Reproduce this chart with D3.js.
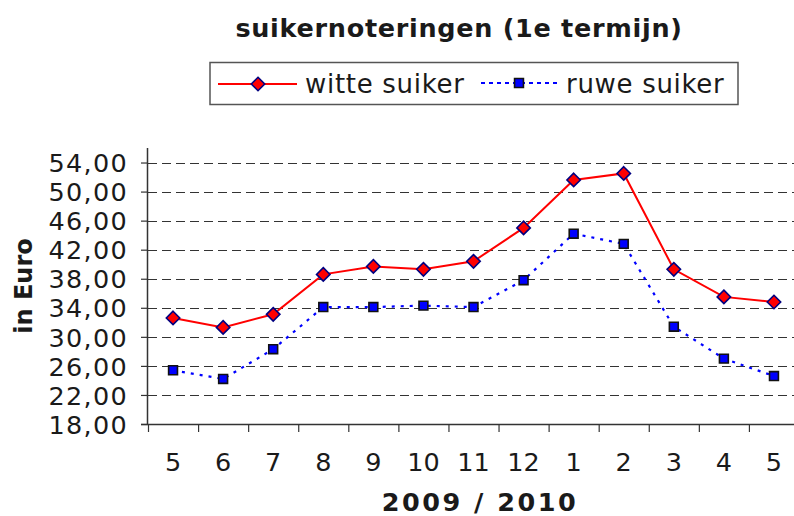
<!DOCTYPE html>
<html>
<head>
<meta charset="utf-8">
<script src="https://cdn.jsdelivr.net/npm/d3@7"></script>
<style>
  body { margin: 0; background: #fff; }
  svg { display: block; font-family: "DejaVu Sans", Verdana, sans-serif; }
</style>
</head>
<body>
<svg id="chart" width="794" height="516"></svg>
<script>
// maanden mei 2009 .. mei 2010
const months = ["5", "6", "7", "8", "9", "10", "11", "12", "1", "2", "3", "4", "5"];
const witteSuiker = [32.6, 31.3, 33.1, 38.6, 39.7, 39.3, 40.4, 45.0, 51.6, 52.5, 39.3, 35.5, 34.8];
const ruweSuiker = [25.4, 24.2, 28.3, 34.1, 34.1, 34.3, 34.1, 37.8, 44.2, 42.8, 31.4, 27.0, 24.6];
const yTicks = [18, 22, 26, 30, 34, 38, 42, 46, 50, 54];

const svg = d3.select( "#chart" );

const plotLeft = 148, plotRight = 799, plotTop = 148, plotBottom = 424;

const x = d3.scaleBand()
    .domain( d3.range( months.length ) )
    .range( [ plotLeft, plotRight ] )
    .padding( 0 );

const xEdge = d3.scaleLinear()
    .domain( [ 0, months.length ] )
    .range( [ plotLeft, plotRight ] );

const y = d3.scaleLinear()
    .domain( [ 18, 56 ] )
    .range( [ plotBottom, plotTop ] );

const fmt = v => d3.format( ".2f" )( v ).replace( ".", "," );

// gridlines
svg.append( "g" )
    .selectAll( "line" )
    .data( yTicks.slice( 1 ) )
    .enter()
    .append( "line" )
    .attr( "x1", plotLeft )
    .attr( "x2", plotRight )
    .attr( "y1", d => Math.round( y( d ) ) + 0.5 )
    .attr( "y2", d => Math.round( y( d ) ) + 0.5 )
    .attr( "stroke", "#333" )
    .attr( "stroke-width", 1 )
    .attr( "stroke-dasharray", "9,5" );

// y axis
const yAxis = svg.append( "g" )
    .attr( "transform", `translate(${plotLeft},0)` )
    .call( d3.axisLeft( y ).tickValues( yTicks ).tickSize( 7 ).tickPadding( 13 ).tickFormat( fmt ) );
yAxis.select( ".domain" ).attr( "d", `M-0.5,${plotTop}V${plotBottom}` ).attr( "stroke", "#333" ).attr( "stroke-width", 1.5 );
yAxis.selectAll( ".tick line" ).attr( "stroke", "#333" ).attr( "stroke-width", 1.2 );
yAxis.selectAll( "text" )
    .attr( "font-size", 25.5 )
    .attr( "fill", "#1a1a1a" )
    .attr( "dy", "0.36em" )
    .attr( "letter-spacing", 1.3 )
    .style( "font-family", "DejaVu Sans" );

// x axis: tick marks at the band edges
const xAxis = svg.append( "g" )
    .attr( "transform", `translate(0,${plotBottom})` )
    .call( d3.axisBottom( xEdge ).tickValues( d3.range( months.length + 1 ) ).tickSize( 8 ).tickFormat( "" ) );
xAxis.select( ".domain" ).attr( "d", `M${plotLeft - 7},0.5H${plotRight}` ).attr( "stroke", "#333" ).attr( "stroke-width", 1.5 );
xAxis.selectAll( ".tick line" ).attr( "stroke", "#333" ).attr( "stroke-width", 1.2 );

// x labels centred in the bands
const xLabels = svg.append( "g" )
    .attr( "transform", `translate(0,${plotBottom})` )
    .call( d3.axisBottom( x ).tickSize( 0 ).tickPadding( 29 ).tickFormat( i => months[ i ] ) );
xLabels.select( ".domain" ).remove();
xLabels.selectAll( "text" )
    .attr( "font-size", 25.5 )
    .attr( "fill", "#1a1a1a" )
    .style( "font-family", "DejaVu Sans" );

const cx = i => x( i ) + x.bandwidth() / 2;

// witte suiker
const lineW = d3.line().x( ( d, i ) => cx( i ) ).y( d => y( d ) );
svg.append( "path" )
    .datum( witteSuiker )
    .attr( "d", lineW )
    .attr( "fill", "none" )
    .attr( "stroke", "#ff0000" )
    .attr( "stroke-width", 2 );

// ruwe suiker
svg.append( "path" )
    .datum( ruweSuiker )
    .attr( "d", lineW )
    .attr( "fill", "none" )
    .attr( "stroke", "#0000ff" )
    .attr( "stroke-width", 2.2 )
    .attr( "stroke-dasharray", "3,6" );

const diamond = d3.symbol().type( d3.symbolDiamond2 ).size( 115 );
const square = d3.symbol().type( d3.symbolSquare2 ).size( 100 );

svg.append( "g" )
    .selectAll( "path" )
    .data( ruweSuiker )
    .enter()
    .append( "path" )
    .attr( "d", square )
    .attr( "transform", ( d, i ) => `translate(${cx( i )},${y( d )})` )
    .attr( "fill", "#0000ff" )
    .attr( "stroke", "#111" )
    .attr( "stroke-width", 1.6 );

svg.append( "g" )
    .selectAll( "path" )
    .data( witteSuiker )
    .enter()
    .append( "path" )
    .attr( "d", diamond )
    .attr( "transform", ( d, i ) => `translate(${cx( i )},${y( d )})` )
    .attr( "fill", "#ff0000" )
    .attr( "stroke", "#000080" )
    .attr( "stroke-width", 1.6 );

// titles
svg.append( "text" )
    .attr( "x", 459 )
    .attr( "y", 37 )
    .attr( "text-anchor", "middle" )
    .attr( "font-size", 25.5 )
    .attr( "font-weight", "bold" )
    .attr( "letter-spacing", 0.7 )
    .attr( "fill", "#1a1a1a" )
    .text( "suikernoteringen (1e termijn)" );

svg.append( "text" )
    .attr( "x", 480 )
    .attr( "y", 511 )
    .attr( "text-anchor", "middle" )
    .attr( "font-size", 25.5 )
    .attr( "font-weight", "bold" )
    .attr( "letter-spacing", 2.5 )
    .attr( "fill", "#1a1a1a" )
    .text( "2009 / 2010" );

svg.append( "text" )
    .attr( "transform", "translate(32,286) rotate(-90)" )
    .attr( "text-anchor", "middle" )
    .attr( "font-size", 24 )
    .attr( "font-weight", "bold" )
    .attr( "fill", "#1a1a1a" )
    .text( "in Euro" );

// legend
const legend = svg.append( "g" );
legend.append( "rect" )
    .attr( "x", 210 )
    .attr( "y", 62.5 )
    .attr( "width", 528 )
    .attr( "height", 42 )
    .attr( "fill", "#fff" )
    .attr( "stroke", "#555" )
    .attr( "stroke-width", 1.5 );

legend.append( "line" )
    .attr( "x1", 218 ).attr( "x2", 297 )
    .attr( "y1", 84 ).attr( "y2", 84 )
    .attr( "stroke", "#ff0000" ).attr( "stroke-width", 2 );
legend.append( "path" )
    .attr( "d", diamond )
    .attr( "transform", "translate(258,84)" )
    .attr( "fill", "#ff0000" ).attr( "stroke", "#000080" ).attr( "stroke-width", 1.6 );
legend.append( "text" )
    .attr( "x", 305 ).attr( "y", 93 )
    .attr( "font-size", 26 )
    .attr( "letter-spacing", 0.7 )
    .attr( "fill", "#1a1a1a" )
    .text( "witte suiker" );

legend.append( "line" )
    .attr( "x1", 481 ).attr( "x2", 560 )
    .attr( "y1", 83 ).attr( "y2", 83 )
    .attr( "stroke", "#0000ff" ).attr( "stroke-width", 2.2 )
    .attr( "stroke-dasharray", "4,4" );
legend.append( "path" )
    .attr( "d", square )
    .attr( "transform", "translate(519,83)" )
    .attr( "fill", "#0000ff" ).attr( "stroke", "#111" ).attr( "stroke-width", 1.6 );
legend.append( "text" )
    .attr( "x", 566 ).attr( "y", 93 )
    .attr( "font-size", 26 )
    .attr( "letter-spacing", 0.7 )
    .attr( "fill", "#1a1a1a" )
    .text( "ruwe suiker" );
</script>
</body>
</html>
